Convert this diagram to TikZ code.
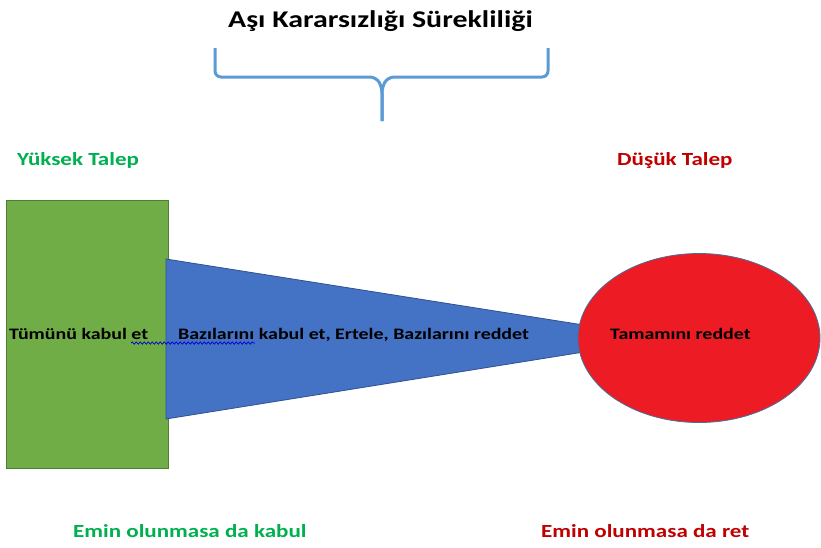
\documentclass[tikz,border=0pt]{standalone}
\usepackage{fontspec}
\setmainfont[FakeStretch=1.245]{Carlito}
\usetikzlibrary{shapes.geometric,decorations.pathmorphing}
\definecolor{boxgreen}{HTML}{70AD47}
\definecolor{boxgreenline}{HTML}{507E32}
\definecolor{conefill}{HTML}{4472C4}
\definecolor{coneline}{HTML}{2F528F}
\definecolor{ovalred}{HTML}{ED1C24}
\definecolor{ovalline}{HTML}{41719C}
\definecolor{bracecol}{HTML}{5B9BD5}
\definecolor{labgreen}{HTML}{00B050}
\definecolor{labred}{HTML}{C00000}
\tikzset{
  shapelabel/.style={font=\bfseries\fontsize{16}{18}\selectfont, text=black, inner sep=0pt, anchor=base west},
  sidelabel/.style={font=\bfseries\fontsize{18.5}{22}\selectfont, inner sep=0pt, anchor=base west},
}
\begin{document}
\begin{tikzpicture}[x=1pt,y=-1pt]
\useasboundingbox (0,0) rectangle (821,547);
\fill[white] (0,0) rectangle (821,547);

% title and brace
\node[font=\bfseries\fontsize{24}{28}\selectfont, inner sep=0pt, anchor=base west] (title) at (228,27) {Aşı Kararsızlığı Sürekliliği};
\coordinate (bl) at (215,48);
\coordinate (br) at (548,48);
\coordinate (btip) at (382,121);
\draw[bracecol, line width=3pt, rounded corners=6pt]
  (bl) -- (215,77) -- (376,77) -- (382,87) -- (btip);
\draw[bracecol, line width=3pt, rounded corners=6pt]
  (br) -- (548,77) -- (388,77) -- (382,87) -- (btip);

% high / low demand labels
\node[sidelabel, text=labgreen] (high) at (17,165) {Yüksek Talep};
\node[sidelabel, text=labred] (low) at (617,165) {Düşük Talep};

% accept-all box
\node[draw=boxgreenline, fill=boxgreen, line width=0.8pt, minimum width=162pt, minimum height=268pt, inner sep=0pt] (acc) at (87,334) {};

% narrowing cone
\coordinate (c1) at (166,259);
\coordinate (c2) at (590,326);
\coordinate (c3) at (590,351);
\coordinate (c4) at (166,419);
\draw[coneline, fill=conefill, line width=0.8pt, line join=round] (c1) -- (c2) -- (c3) -- (c4) -- cycle;

% reject-all oval
\node[ellipse, draw=ovalline, fill=ovalred, line width=0.8pt, minimum width=242pt, minimum height=169pt, inner sep=0pt] (rej) at (699,338) {};

% texts on the shapes
\node[shapelabel] (t1) at (9,339) {Tümünü kabul et};
\node[shapelabel] (t2) at (178,339) {Bazılarını kabul et, Ertele, Bazılarını reddet};
\node[shapelabel] (t3) at (610,339) {Tamamını reddet};
\coordinate (w1) at (131,343);
\coordinate (w2) at (255,343);
\draw[blue!80!black, line width=0.7pt, decorate, decoration={snake, amplitude=1.2pt, segment length=4pt}] (w1) -- (w2);

% bottom labels
\node[sidelabel, text=labgreen] (sure1) at (73,537) {Emin olunmasa da kabul};
\node[sidelabel, text=labred] (sure2) at (541,537) {Emin olunmasa da ret};
\end{tikzpicture}
\end{document}
